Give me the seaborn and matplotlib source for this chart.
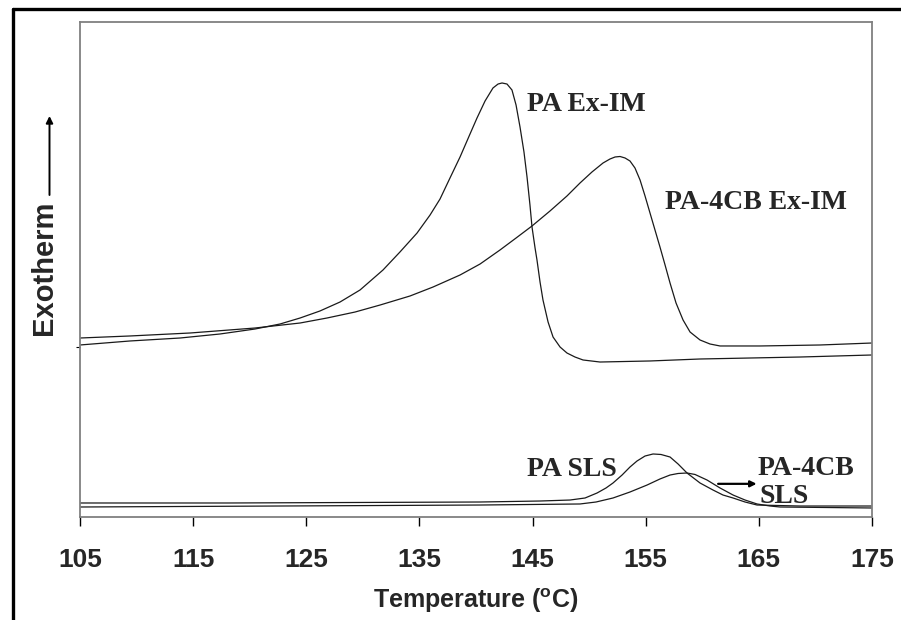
import numpy as np
import pandas as pd
import seaborn as sns
import matplotlib.pyplot as plt
from matplotlib.lines import Line2D

# Datos (temperatura en C, flujo de calor en unidades arbitrarias)
t_pa_exim = [105.00, 109.42, 113.84, 117.37, 120.47, 122.68, 124.45, 126.21, 127.98,
             129.75, 131.78, 133.28, 134.79, 135.94, 136.82, 137.70, 138.59, 139.47,
             140.09, 140.80, 141.50, 141.95, 142.30, 142.74, 143.18, 143.54, 143.89,
             144.24, 144.51, 144.77, 144.95, 145.22, 145.39, 145.66, 145.92, 146.37,
             146.81, 147.43, 148.04, 148.75, 149.46, 150.96, 155.38, 159.80, 168.64,
             175.00]
y_pa_exim = [34.75, 35.56, 36.16, 36.97, 37.98, 38.99, 40.20, 41.62, 43.43,
             45.86, 49.90, 53.54, 57.37, 61.01, 64.24, 68.48, 72.73, 77.37,
             80.61, 84.04, 86.67, 87.47, 87.68, 87.47, 86.26, 83.23, 78.79,
             73.74, 68.69, 63.03, 58.59, 54.34, 51.92, 47.47, 43.84, 39.39,
             36.36, 34.34, 33.13, 32.32, 31.72, 31.31, 31.52, 31.92, 32.32,
             32.73]

t_4cb_exim = [105.00, 109.42, 114.72, 120.47, 124.45, 126.83, 129.31, 131.53, 134.17,
              136.20, 138.59, 140.36, 142.12, 143.54, 144.95, 146.54, 148.04, 149.19,
              150.25, 151.23, 151.84, 152.29, 152.73, 153.17, 153.61, 154.05, 154.50,
              154.94, 155.38, 155.82, 156.26, 156.71, 157.15, 157.68, 158.30, 158.92,
              159.80, 160.68, 161.57, 165.10, 170.41, 175.00]
y_4cb_exim = [36.16, 36.57, 37.17, 38.18, 39.19, 40.20, 41.41, 42.83, 44.65,
              46.46, 48.89, 51.11, 53.94, 56.36, 58.79, 61.82, 64.85, 67.47,
              69.70, 71.52, 72.32, 72.73, 72.83, 72.53, 71.92, 70.51, 68.08,
              64.85, 61.41, 57.98, 54.55, 50.91, 47.27, 43.23, 39.80, 37.37,
              35.76, 34.95, 34.55, 34.55, 34.75, 35.15]

t_pa_sls = [105.00, 118.00, 140.36, 145.66, 148.31, 149.64, 150.70, 151.49, 152.11,
            152.91, 153.61, 154.23, 154.94, 155.65, 156.35, 157.15, 157.86, 158.65,
            159.80, 160.95, 161.83, 162.72, 163.78, 164.84, 168.64, 175.00]
y_pa_sls = [2.83, 2.83, 3.03, 3.23, 3.43, 3.84, 4.85, 5.86, 6.87,
            8.48, 10.10, 11.31, 12.32, 12.73, 12.63, 12.12, 10.71, 8.89,
            6.87, 5.45, 4.44, 3.84, 3.03, 2.42, 2.22, 2.22]

t_4cb_sls = [105.00, 140.36, 149.19, 150.61, 152.11, 153.61, 155.12, 156.26, 157.15,
             157.86, 158.65, 159.36, 160.42, 161.57, 162.72, 163.78, 164.84, 165.99,
             166.87, 175.00]
y_4cb_sls = [2.02, 2.42, 2.63, 3.03, 3.84, 5.05, 6.46, 7.68, 8.48,
             8.79, 8.89, 8.59, 7.47, 5.86, 4.44, 3.43, 2.63, 2.22,
             2.02, 1.82]

x_ticks = [105, 115, 125, 135, 145, 155, 165, 175]


def main():
    sns.set_theme(style="white")
    plt.rcParams["font.family"] = ["Liberation Sans", "DejaVu Sans"]
    plt.rcParams["mathtext.fontset"] = "custom"
    plt.rcParams["mathtext.bf"] = "Liberation Sans:bold"
    plt.rcParams["mathtext.rm"] = "Liberation Sans"

    fig = plt.figure(figsize=(9.01, 6.2), dpi=100)
    ax = fig.add_axes([80 / 901, 103 / 620, 792 / 901, 495 / 620])

    curvas = [
        (t_pa_exim, y_pa_exim),
        (t_4cb_exim, y_4cb_exim),
        (t_pa_sls, y_pa_sls),
        (t_4cb_sls, y_4cb_sls),
    ]
    for t, y in curvas:
        sns.lineplot(x=t, y=y, ax=ax, color="#1a1a1a", linewidth=0.9,
                     estimator=None)

    ax.set_xlim(105, 175)
    ax.set_ylim(0, 100)
    ax.set_xticks(x_ticks)
    ax.set_xticklabels([str(v) for v in x_ticks], fontsize=19,
                       fontweight="bold")
    ax.set_yticks([34.3])
    ax.set_yticklabels([""])
    ax.tick_params(axis="x", direction="out", length=6.5, width=1,
                   color="black", pad=16, bottom=True)
    ax.tick_params(axis="y", direction="out", length=3, width=0.8,
                   color="black", left=True)

    for s in ax.spines.values():
        s.set_color("#808080")
        s.set_linewidth(1.3)

    ax.set_xlabel(r"Temperature ($\mathbf{^{o}}$C)", fontsize=18,
                  fontweight="bold", labelpad=10)
    ax.set_ylabel("")

    # Etiquetas de las curvas (serif, negrita)
    serif = ["Liberation Serif", "DejaVu Serif"]
    ax.text(144.5, 82.0, "PA Ex-IM", family=serif, fontweight="bold",
            fontsize=20, ha="left", va="baseline")
    ax.text(156.7, 62.2, "PA-4CB Ex-IM", family=serif, fontweight="bold",
            fontsize=20, ha="left", va="baseline")
    ax.text(144.5, 8.3, "PA SLS", family=serif, fontweight="bold",
            fontsize=20, ha="left", va="baseline")
    ax.text(164.9, 8.5, "PA-4CB", family=serif, fontweight="bold",
            fontsize=20, ha="left", va="baseline")
    ax.text(165.1, 2.8, "SLS", family=serif, fontweight="bold",
            fontsize=20, ha="left", va="baseline")
    ax.annotate("", xy=(164.8, 6.7), xytext=(161.4, 6.7),
                arrowprops=dict(arrowstyle="-|>", color="black", lw=1.6,
                                mutation_scale=9, shrinkA=0, shrinkB=0))

    # Etiqueta "Exotherm" con flecha
    fig.text(44 / 901, 1 - 268 / 620, "Exotherm", rotation=90,
             fontsize=21, fontweight="bold", ha="center", va="center")
    fig.add_artist(plt.Annotation(
        "", xy=(49.5 / 901, 1 - 116 / 620), xytext=(49.5 / 901, 1 - 195 / 620),
        xycoords="figure fraction", textcoords="figure fraction",
        arrowprops=dict(arrowstyle="-|>", color="black", lw=1.4,
                        mutation_scale=10, shrinkA=0, shrinkB=0)))

    # Marco exterior (solo arriba e izquierda)
    fig.add_artist(Line2D([12.5 / 901, 12.5 / 901], [0, 1 - 8.5 / 620],
                          color="black", linewidth=2.4,
                          transform=fig.transFigure))
    fig.add_artist(Line2D([12.5 / 901, 1], [1 - 8.5 / 620, 1 - 8.5 / 620],
                          color="black", linewidth=2.4,
                          transform=fig.transFigure))

    plt.savefig("out.png", dpi=100)


if __name__ == "__main__":
    main()
